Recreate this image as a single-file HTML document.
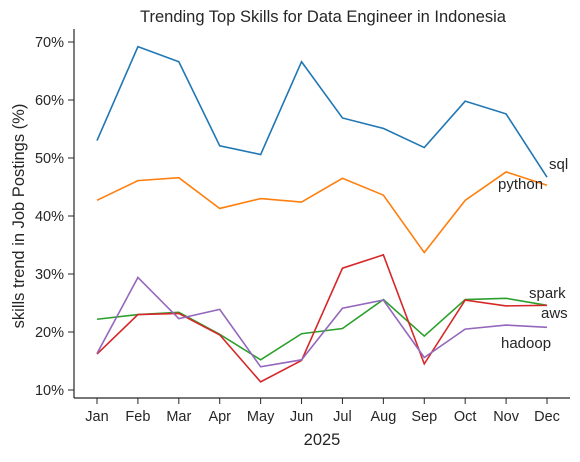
<!DOCTYPE html>
<html><head><meta charset="utf-8"><style>
body{margin:0;background:#fff;}
svg{font-family:"Liberation Sans","DejaVu Sans",sans-serif;}
</style></head><body>
<svg id="chart" width="580" height="457" xmlns="http://www.w3.org/2000/svg">
<text x="323" y="22" text-anchor="middle" font-size="16.5" fill="#262626">Trending Top Skills for Data Engineer in Indonesia</text>
<g id="axes"></g>
<g id="series"></g>
</svg>
<script>
const months=["Jan","Feb","Mar","Apr","May","Jun","Jul","Aug","Sep","Oct","Nov","Dec"];
const yTicks=[10,20,30,40,50,60,70];
const sql=[53.0,69.2,66.6,52.1,50.6,66.6,56.9,55.1,51.8,59.8,57.6,46.7];
const python=[42.7,46.1,46.6,41.3,43.0,42.4,46.5,43.6,33.7,42.7,47.6,45.3];
const spark=[22.2,23.0,23.4,19.6,15.2,19.7,20.6,25.6,19.3,25.6,25.8,24.6];
const aws=[16.2,23.0,23.2,19.5,11.4,15.1,31.0,33.3,14.5,25.5,24.5,24.6];
const hadoop=[16.3,29.4,22.3,23.9,14.0,15.2,24.1,25.5,15.6,20.5,21.2,20.8];
const seriesNames=["sql","python","spark","aws","hadoop"];
const seriesData=[sql,python,spark,aws,hadoop];
const colors=["#1f77b4","#ff7f0e","#2ca02c","#d62728","#9467bd"];
const labelPos=[[549,169],[498,189],[529,298],[541,318],[501,348]];
const NS="http://www.w3.org/2000/svg";
const x=i=>97+i*(450/11);
const y=v=>390-(v-10)*5.8;
function mk(tag,attrs,parent,text){const e=document.createElementNS(NS,tag);for(const k in attrs)e.setAttribute(k,attrs[k]);if(text!==undefined)e.textContent=text;parent.appendChild(e);return e;}
const ax=document.getElementById('axes');
let e=mk('line',{x1:74,y1:29,x2:74,y2:398,stroke:'#262626','stroke-width':1.2},ax);


e=mk('line',{x1:74,y1:398,x2:570,y2:398,stroke:'#262626','stroke-width':1.2},ax);


yTicks.forEach(t=>{
  mk('line',{x1:68,x2:74,y1:y(t),y2:y(t),stroke:'#262626'},ax);
  e=mk('text',{x:64,y:y(t)+5,'text-anchor':'end','font-size':14.5,fill:'#262626'},ax,t+'%');
  
  
});
months.forEach((m,i)=>{
  mk('line',{x1:x(i),x2:x(i),y1:398,y2:404,stroke:'#262626'},ax);
  e=mk('text',{x:x(i),y:421,'text-anchor':'middle','font-size':14.5,fill:'#262626'},ax,m);
  
  
});
e=mk('text',{x:322,y:445,'text-anchor':'middle','font-size':16.5,fill:'#262626'},ax,'2025');


e=mk('text',{x:0,y:0,'text-anchor':'middle','font-size':16.5,fill:'#262626',transform:'translate(24,216) rotate(-90)'},ax,'skills trend in Job Postings (%)');


const sg=document.getElementById('series');
seriesData.forEach((d,s)=>{
  const p=mk('polyline',{points:d.map((v,i)=>x(i)+','+y(v)).join(' '),fill:'none',stroke:colors[s],'stroke-width':1.6},sg);
  
  
  const t=mk('text',{x:labelPos[s][0],y:labelPos[s][1],'font-size':15,fill:'#262626'},sg,seriesNames[s]);
  
  
});
</script>
</body></html>
